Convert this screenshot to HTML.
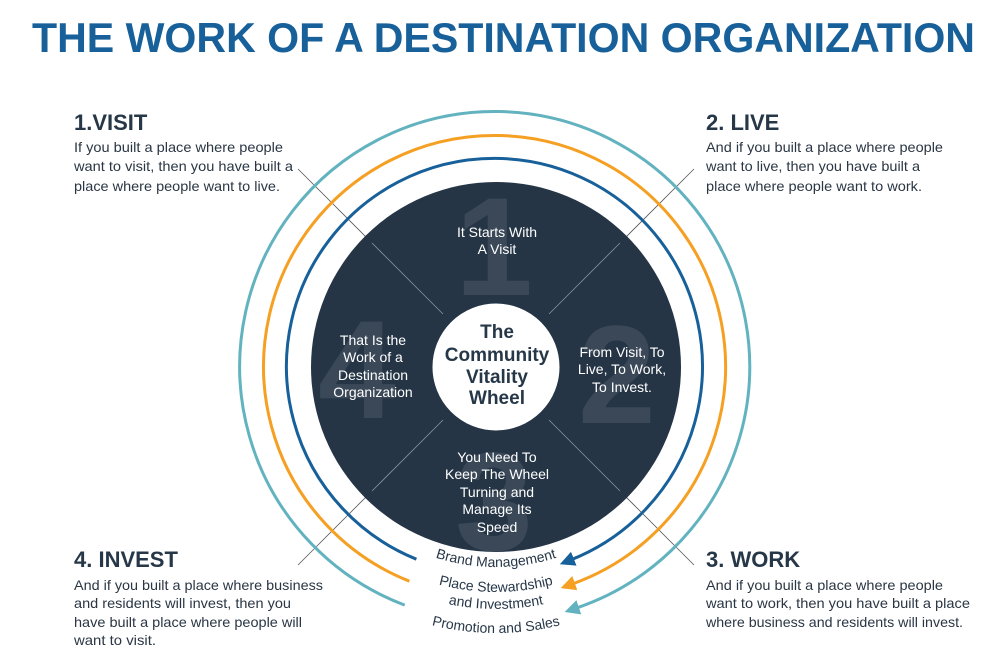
<!DOCTYPE html>
<html><head><meta charset="utf-8"><style>
html,body{margin:0;padding:0;background:#fff;}
svg{display:block;font-family:"Liberation Sans",sans-serif;}
</style></head><body>
<svg width="1000" height="664" viewBox="0 0 1000 664" xmlns="http://www.w3.org/2000/svg">
<defs>
<marker id="mb" viewBox="0 0 10 10" refX="2" refY="5" markerWidth="5" markerHeight="5" orient="auto" markerUnits="strokeWidth"><path d="M0,0 L10,5 L0,10 Z" fill="#17609a"/></marker>
<marker id="mo" viewBox="0 0 10 10" refX="2" refY="5" markerWidth="5" markerHeight="5" orient="auto" markerUnits="strokeWidth"><path d="M0,0 L10,5 L0,10 Z" fill="#f5a023"/></marker>
<marker id="mt" viewBox="0 0 10 10" refX="2" refY="5" markerWidth="5" markerHeight="5" orient="auto" markerUnits="strokeWidth"><path d="M0,0 L10,5 L0,10 Z" fill="#62b3bf"/></marker>
<path id="p1" d="M296,367 A200,200 0 0 0 696,367"/>
<path id="p2" d="M271,367 A225,225 0 0 0 721,367"/>
<path id="p3" d="M254,367 A242,242 0 0 0 738,367"/>
<path id="p4" d="M230,367 A266,266 0 0 0 762,367"/>
</defs>
<text x="32" y="52" font-size="42" font-weight="bold" fill="#17609a" textLength="943" lengthAdjust="spacingAndGlyphs">THE WORK OF A DESTINATION ORGANIZATION</text>

<g stroke="#555" stroke-width="0.8">
<line x1="298" y1="169" x2="694" y2="565"/>
<line x1="694" y1="169" x2="298" y2="565"/>
</g>

<path d="M416.4,559.2 A208,208 0 1 1 571,559.8" fill="none" stroke="#17609a" stroke-width="3" marker-end="url(#mb)"/>
<path d="M409.4,581.2 A231,231 0 1 1 572,584.1" fill="none" stroke="#f5a023" stroke-width="3" marker-end="url(#mo)"/>
<path d="M404.7,605.1 A255,255 0 1 1 576,608.2" fill="none" stroke="#62b3bf" stroke-width="3" marker-end="url(#mt)"/>

<circle cx="496" cy="367" r="185" fill="#253546"/>
<g font-size="140" font-weight="bold" fill="#3a4858">
<text x="455" y="295">1</text>
<text x="578" y="423">2</text>
<text x="455" y="550">3</text>
<text x="318" y="418">4</text>
</g>
<g stroke="#8894a0" stroke-width="0.8">
<line x1="372" y1="243" x2="443" y2="314"/>
<line x1="620" y1="243" x2="549" y2="314"/>
<line x1="372" y1="491" x2="443" y2="420"/>
<line x1="620" y1="491" x2="549" y2="420"/>
</g>
<circle cx="496" cy="367" r="64" fill="#fff" stroke="#253546" stroke-width="1"/>
<g font-size="19" font-weight="bold" fill="#263748" text-anchor="middle">
<text x="497" y="338">The</text>
<text x="497" y="361">Community</text>
<text x="497" y="383">Vitality</text>
<text x="497" y="404">Wheel</text>
</g>
<g font-size="14" fill="#fff" text-anchor="middle">
<text x="497" y="237">It Starts With</text>
<text x="497" y="254">A Visit</text>
<text x="373" y="345">That Is the</text>
<text x="373" y="362">Work of a</text>
<text x="373" y="380">Destination</text>
<text x="373" y="397">Organization</text>
<text x="622" y="357">From Visit, To</text>
<text x="622" y="374">Live, To Work,</text>
<text x="622" y="392">To Invest.</text>
<text x="497" y="462">You Need To</text>
<text x="497" y="479">Keep The Wheel</text>
<text x="497" y="497">Turning and</text>
<text x="497" y="514">Manage Its</text>
<text x="497" y="532">Speed</text>
</g>
<g font-size="14" fill="#263748" text-anchor="middle">
<text><textPath href="#p1" startOffset="50%">Brand Management</textPath></text>
<text><textPath href="#p2" startOffset="50%">Place Stewardship</textPath></text>
<text><textPath href="#p3" startOffset="50%">and Investment</textPath></text>
<text><textPath href="#p4" startOffset="50%">Promotion and Sales</textPath></text>
</g>

<g font-size="22" font-weight="bold" fill="#263748">
<text x="74" y="130">1.VISIT</text>
<text x="706" y="130">2. LIVE</text>
<text x="74" y="567">4. INVEST</text>
<text x="706" y="567">3. WORK</text>
</g>
<g font-size="14" fill="#2a3644">
<text x="74" y="152" textLength="209" lengthAdjust="spacingAndGlyphs">If you built a place where people</text>
<text x="74" y="171" textLength="219" lengthAdjust="spacingAndGlyphs">want to visit, then you have built a</text>
<text x="74" y="191" textLength="206" lengthAdjust="spacingAndGlyphs">place where people want to live.</text>
<text x="706" y="152" textLength="237" lengthAdjust="spacingAndGlyphs">And if you built a place where people</text>
<text x="706" y="171" textLength="214" lengthAdjust="spacingAndGlyphs">want to live, then you have built a</text>
<text x="706" y="191" textLength="216" lengthAdjust="spacingAndGlyphs">place where people want to work.</text>
<text x="74" y="590" textLength="249" lengthAdjust="spacingAndGlyphs">And if you built a place where business</text>
<text x="74" y="608" textLength="217" lengthAdjust="spacingAndGlyphs">and residents will invest, then you</text>
<text x="74" y="627" textLength="228" lengthAdjust="spacingAndGlyphs">have built a place where people will</text>
<text x="74" y="645" textLength="82" lengthAdjust="spacingAndGlyphs">want to visit.</text>
<text x="706" y="590" textLength="237" lengthAdjust="spacingAndGlyphs">And if you built a place where people</text>
<text x="706" y="608" textLength="264" lengthAdjust="spacingAndGlyphs">want to work, then you have built a place</text>
<text x="706" y="627" textLength="257" lengthAdjust="spacingAndGlyphs">where business and residents will invest.</text>
</g>
</svg>
</body></html>
